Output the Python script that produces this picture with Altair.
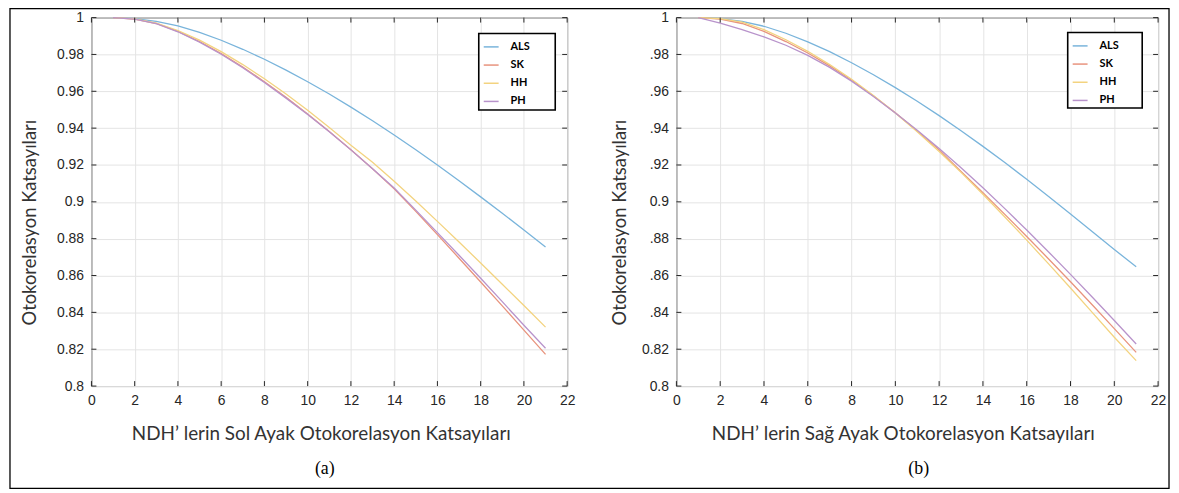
import json
import altair as alt
import pandas as pd

# ---------------- data ----------------
X_VALUES = list(range(1, 22))
SERIES = ["ALS", "SK", "HH", "PH"]
COLORS = ["#79b4db", "#e8937d", "#f3d37f", "#b893cb"]

LEFT_ALS = [1.0, 0.9995, 0.998, 0.9955, 0.992, 0.9877, 0.9828, 0.9774, 0.9715, 0.9652, 0.9585,
            0.9514, 0.944, 0.9363, 0.9283, 0.92, 0.9114, 0.9027, 0.8938, 0.8847, 0.8755]
LEFT_SK = [1.0, 0.9992, 0.9968, 0.9925, 0.987, 0.9805, 0.9732, 0.9652, 0.9567, 0.9477, 0.9382,
           0.9283, 0.9179, 0.9071, 0.8948, 0.8822, 0.8694, 0.8565, 0.8435, 0.8304, 0.8172]
LEFT_HH = [1.0, 0.9993, 0.997, 0.993, 0.9878, 0.9815, 0.9745, 0.9668, 0.9585, 0.9497, 0.9404,
           0.9307, 0.9215, 0.9112, 0.9004, 0.8894, 0.8782, 0.8668, 0.8553, 0.8437, 0.832]
LEFT_PH = [1.0, 0.9992, 0.9967, 0.9923, 0.9867, 0.9801, 0.9728, 0.9648, 0.9563, 0.9474, 0.938,
           0.9282, 0.918, 0.9075, 0.8955, 0.8833, 0.871, 0.8585, 0.8458, 0.833, 0.8205]

RIGHT_ALS = [1.0, 0.9995, 0.998, 0.9953, 0.9915, 0.9868, 0.9815, 0.9755, 0.969, 0.962, 0.9546,
             0.9468, 0.9386, 0.9301, 0.9213, 0.9122, 0.9029, 0.8934, 0.8838, 0.8741, 0.8648]
RIGHT_SK = [1.0, 0.9992, 0.9968, 0.9925, 0.987, 0.9808, 0.9738, 0.966, 0.9575, 0.9483, 0.9385,
            0.9282, 0.9165, 0.905, 0.8932, 0.8812, 0.869, 0.8566, 0.844, 0.8312, 0.8183]
RIGHT_HH = [1.0, 0.9995, 0.9975, 0.9935, 0.988, 0.9817, 0.9745, 0.9665, 0.9577, 0.9482, 0.938,
            0.9273, 0.916, 0.9041, 0.8918, 0.8792, 0.8663, 0.8532, 0.8399, 0.8265, 0.8138]
RIGHT_PH = [1.0, 0.997, 0.9935, 0.9895, 0.985, 0.9795, 0.973, 0.9655, 0.9572, 0.9482, 0.9388,
            0.9289, 0.9185, 0.9076, 0.8963, 0.8847, 0.8728, 0.8606, 0.8482, 0.8356, 0.8228]

X_TICKS = list(range(0, 23, 2))
Y_TICKS = [0.8, 0.82, 0.84, 0.86, 0.88, 0.9, 0.92, 0.94, 0.96, 0.98, 1.0]
LEFT_Y_LABELS = ["0.8", "0.82", "0.84", "0.86", "0.88", "0.9", "0.92", "0.94", "0.96", "0.98", "1"]
RIGHT_Y_LABELS = ["0.8", "0.82", ".84", ".86", ".88", "0.9", ".92", ".94", ".96", ".98", "1"]

Y_TITLE = "Otokorelasyon Katsayıları"
LEFT_X_TITLE = "NDH’ lerin Sol Ayak Otokorelasyon Katsayıları"
RIGHT_X_TITLE = "NDH’ lerin Sağ Ayak Otokorelasyon Katsayıları"
CAPTIONS = ["(a)", "(b)"]

# ---------------- style ----------------
AXIS_COLOR = "#262626"
TICK_LEN = 5
HEIGHT = 371


def panel(values, ylabels, xtitle, caption, width, ytitle_x, xtitle_x,
          legend_box, caption_x, frame=False):
    rows = []
    for s, vals in zip(SERIES, values):
        for x, y in zip(X_VALUES, vals):
            rows.append({"x": x, "y": y, "series": s})
    df = pd.DataFrame(rows)

    xscale = alt.Scale(domain=[0, 22], nice=False)
    yscale = alt.Scale(domain=[0.8, 1.0], nice=False, zero=False)
    label_expr = json.dumps(ylabels) + "[round((datum.value - 0.8) / 0.02)]"
    xaxis = alt.Axis(values=X_TICKS, title=xtitle, titleX=xtitle_x, titleY=48,
                     titleBaseline="middle", titleAlign="center", titleFontSize=19,
                     labelFlush=False, labelPadding=8, grid=True)
    yaxis = alt.Axis(values=Y_TICKS, labelExpr=label_expr, title=Y_TITLE,
                     titleX=ytitle_x, titleY=206, titleAngle=270,
                     titleBaseline="middle", titleAlign="center", titleFontSize=18.5,
                     labelPadding=8, grid=True)

    lx1, ly1, lx2, ly2 = legend_box
    lines = alt.Chart(df).mark_line(strokeWidth=1.3).encode(
        x=alt.X("x:Q", scale=xscale, axis=xaxis),
        y=alt.Y("y:Q", scale=yscale, axis=yaxis),
        color=alt.Color("series:N", scale=alt.Scale(domain=SERIES, range=COLORS),
                        legend=alt.Legend(title=None, orient="none", legendX=lx1,
                                          legendY=ly1 + 1)),
    )

    ytick_df = pd.DataFrame({"y": Y_TICKS})
    xtick_df = pd.DataFrame({"x": X_TICKS})
    rule = dict(color=AXIS_COLOR, strokeWidth=1)
    left_ticks = alt.Chart(ytick_df).mark_rule(**rule).encode(
        y=alt.Y("y:Q", scale=yscale, axis=yaxis), x=alt.value(0), x2=alt.value(TICK_LEN))
    right_ticks = alt.Chart(ytick_df).mark_rule(**rule).encode(
        y=alt.Y("y:Q", scale=yscale, axis=yaxis), x=alt.value(width - TICK_LEN), x2=alt.value(width))
    bottom_ticks = alt.Chart(xtick_df).mark_rule(**rule).encode(
        x=alt.X("x:Q", scale=xscale, axis=xaxis), y=alt.value(HEIGHT - TICK_LEN), y2=alt.value(HEIGHT))
    top_ticks = alt.Chart(xtick_df).mark_rule(**rule).encode(
        x=alt.X("x:Q", scale=xscale, axis=xaxis), y=alt.value(0), y2=alt.value(TICK_LEN))

    # white legend box with black border (MATLAB style)
    legend_frame = alt.Chart(pd.DataFrame({"b": [0]})).mark_rect(
        fill="white", stroke="black", strokeWidth=1.6
    ).encode(x=alt.value(lx1), x2=alt.value(lx2), y=alt.value(ly1), y2=alt.value(ly2))

    cap = alt.Chart(pd.DataFrame({"c": [caption]})).mark_text(
        font="Liberation Serif", fontSize=18, color="black", align="center", baseline="middle"
    ).encode(text="c:N", x=alt.value(caption_x), y=alt.value(HEIGHT + 84))

    layers = [lines, left_ticks, right_ticks, bottom_ticks, top_ticks, legend_frame, cap]
    if frame:
        border = alt.Chart(pd.DataFrame({"f": [0]})).mark_rect(
            fill="white", fillOpacity=0, stroke="black", strokeWidth=1.3
        ).encode(x=alt.value(-82), x2=alt.value(1085), y=alt.value(-9), y2=alt.value(474))
        layers.append(border)

    return alt.layer(*layers).properties(width=width, height=HEIGHT)


left = panel([LEFT_ALS, LEFT_SK, LEFT_HH, LEFT_PH], LEFT_Y_LABELS, LEFT_X_TITLE, CAPTIONS[0],
             479, -62, 231, (390, 16, 467, 93), 235, frame=True)
right = panel([RIGHT_ALS, RIGHT_SK, RIGHT_HH, RIGHT_PH], RIGHT_Y_LABELS, RIGHT_X_TITLE, CAPTIONS[1],
              485, -57, 228, (394, 15, 469, 91), 244)

chart = alt.hconcat(
    left, right, spacing=110, bounds="flush",
    padding={"left": 0, "top": -3, "right": 0, "bottom": 0},
).resolve_scale(
    color="independent"
).resolve_legend(color="independent").configure_view(
    stroke=AXIS_COLOR, strokeWidth=1
).configure_axis(
    labelFont="Liberation Sans", labelFontSize=14, labelColor=AXIS_COLOR,
    titleFont="Lato", titleFontWeight="normal", titleColor="#333333",
    gridColor="#e4e4e4", gridWidth=1, domain=False, ticks=False,
).configure_legend(
    symbolType="stroke", symbolSize=225, symbolStrokeWidth=1.5,
    labelFont="Lato", labelFontSize=11, labelFontWeight="bold", labelColor="black",
    padding=4, rowPadding=4.3, labelOffset=11,
)

chart.save("out.html", embed_options={"renderer": "svg", "actions": False})
